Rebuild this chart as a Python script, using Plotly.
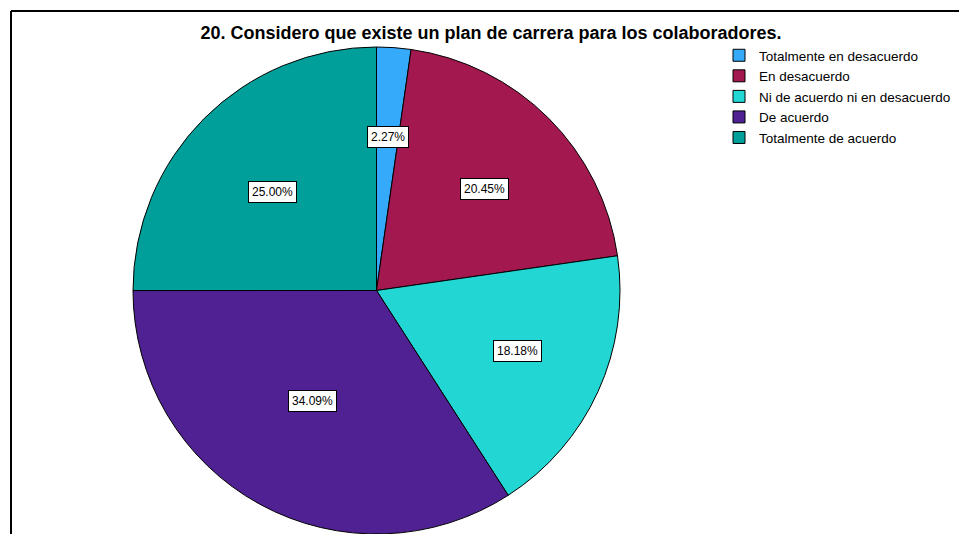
import math
import plotly.graph_objects as go

categories = ["Totalmente en desacuerdo", "En desacuerdo", "Ni de acuerdo ni en desacuerdo",
              "De acuerdo", "Totalmente de acuerdo"]
percentages = [2.27, 20.45, 18.18, 34.09, 25.00]
colors = ["#35aafa", "#a3194f", "#22d6d4", "#4f2193", "#009f9a"]
title_text = "20. Considero que existe un plan de carrera para los colaboradores."

W, H = 959, 534
cx, cy = 376.5, 290.5   # pie centre in px (from top-left)
R = 243.5               # radius in px

dom_x = [(cx - R) / W, (cx + R) / W]
dom_y = [(H - (cy + R)) / H, (H - (cy - R)) / H]

fig = go.Figure(go.Pie(
    labels=categories,
    values=percentages,
    sort=False,
    direction="clockwise",
    rotation=0,
    marker=dict(colors=colors, line=dict(color="black", width=1)),
    textinfo="none",
    hoverinfo="label+percent",
    domain=dict(x=dom_x, y=dom_y),
))

# value labels at slice centroids
total = sum(percentages)
start = 0.0
annotations = []
for p in percentages:
    frac = p / total
    half = math.pi * frac           # half-angle in radians
    mid = 2 * math.pi * start + half
    dist = R * (2 * math.sin(half) / (3 * half)) * 0.95
    xpx = cx + dist * math.sin(mid) * 1.06
    ypx = cy - dist * math.cos(mid)
    annotations.append(dict(
        x=xpx / W, y=(H - ypx) / H, xref="paper", yref="paper",
        text=f"{p:.2f}%", showarrow=False,
        font=dict(family="Liberation Sans, Arial", size=12, color="black"),
        bgcolor="white", bordercolor="black", borderwidth=1, borderpad=3,
        xanchor="center", yanchor="middle",
    ))
    start += frac

shapes = [
    dict(type="line", xref="paper", yref="paper", x0=11 / W, x1=1, y0=(H - 11) / H, y1=(H - 11) / H,
         line=dict(color="black", width=2)),
    dict(type="line", xref="paper", yref="paper", x0=11 / W, x1=11 / W, y0=(H - 11) / H, y1=0,
         line=dict(color="black", width=2)),
]

fig.update_layout(
    width=W, height=H,
    margin=dict(l=0, r=0, t=0, b=0),
    paper_bgcolor="white", plot_bgcolor="white",
    title=dict(text=title_text, x=491 / W, xanchor="center", y=(H - 33) / H, yanchor="middle",
               font=dict(family="Liberation Sans, Arial", size=18, color="black", weight="bold")),
    legend=dict(x=719 / W, y=(H - 40) / H, xanchor="left", yanchor="top",
                font=dict(family="Liberation Sans, Arial", size=13.5, color="black"),
                bgcolor="rgba(0,0,0,0)", traceorder="normal"),
    annotations=annotations,
    shapes=shapes,
    showlegend=True,
)

fig.write_html("out.html")
